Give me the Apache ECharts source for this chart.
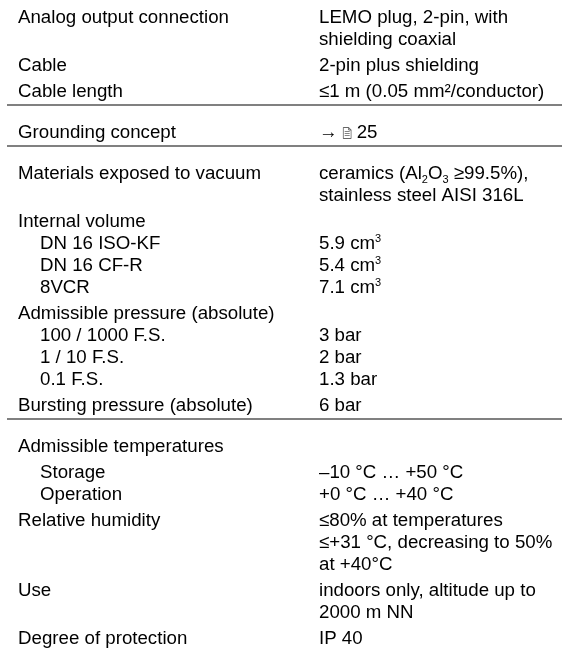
<!DOCTYPE html>
<html>
<head>
<meta charset="utf-8">
<style>
  html, body { margin: 0; padding: 0; background: #fff; }
  #chart { width: 562px; height: 649px; }
</style>
<script src="https://cdn.jsdelivr.net/npm/echarts@6/dist/echarts.min.js"></script>
</head>
<body>
<div id="chart"></div>
<script>
// table content
const connectionLabels = ['Analog output connection', 'Cable', 'Cable length'];
const connectionValues = [
    ['LEMO plug, 2-pin, with', 'shielding coaxial'],
    ['2-pin plus shielding'],
    ['≤1 m (0.05 mm²/conductor)']
];
const groundingLabel = 'Grounding concept';
const groundingPage = 25;
const materialsLabel = 'Materials exposed to vacuum';
const materialsValues = ['ceramics (Al{sub|2}O{sub|3} ≥99.5%),', 'stainless steel AISI 316L'];
const volumeLabel = 'Internal volume';
const volumeFlanges = ['DN 16 ISO-KF', 'DN 16 CF-R', '8VCR'];
const volumeCm3 = [5.9, 5.4, 7.1];
const pressureLabel = 'Admissible pressure (absolute)';
const pressureRanges = ['100 / 1000 F.S.', '1 / 10 F.S.', '0.1 F.S.'];
const pressureBar = ['3', '2', '1.3'];
const burstingLabel = 'Bursting pressure (absolute)';
const burstingBar = 6;
const tempLabel = 'Admissible temperatures';
const tempModes = ['Storage', 'Operation'];
const tempRanges = ['–10 °C … +50 °C', '+0 °C … +40 °C'];
const humidityLabel = 'Relative humidity';
const humidityValues = ['≤80% at temperatures', '≤+31 °C, decreasing to 50%', 'at +40°C'];
const useLabel = 'Use';
const useValues = ['indoors only, altitude up to', '2000 m NN'];
const protectionLabel = 'Degree of protection';
const protectionClass = 'IP 40';

// rows of the table
let rows = [
    { label: [connectionLabels[0]], value: connectionValues[0] },
    { label: [connectionLabels[1]], value: connectionValues[1] },
    { label: [connectionLabels[2]], value: connectionValues[2], rule: true },
    { label: [groundingLabel], value: ['→{sp| }{doc| }{sp| }' + groundingPage], rule: true },
    { label: [materialsLabel], value: materialsValues },
    { label: [volumeLabel].concat(volumeFlanges), value: [''].concat(volumeCm3.map(v => v.toFixed(1) + ' cm{sup|3}')), indentFrom: 1 },
    { label: [pressureLabel].concat(pressureRanges), value: [''].concat(pressureBar.map(v => v + ' bar')), indentFrom: 1 },
    { label: [burstingLabel], value: [burstingBar + ' bar'], rule: true },
    { label: [tempLabel], value: [] },
    { label: tempModes, value: tempRanges, indentFrom: 0 },
    { label: [humidityLabel], value: humidityValues },
    { label: [useLabel], value: useValues },
    { label: [protectionLabel], value: [protectionClass] }
];

const FONT = 'Liberation Sans, Arial, sans-serif';
const SIZE = 18.7;
const PITCH = 22, GAP = 26, RULE_DROP = 13, RULE_GAP = 28;

let docSvg = "<svg xmlns='http://www.w3.org/2000/svg' width='9' height='12' viewBox='0 0 9 12'>" +
    "<path d='M0.5 0.5h5.5l2.5 2.5v8.5h-8z' fill='white' stroke='#555' stroke-width='0.9'/>" +
    "<path d='M6 0.5v2.5h2.5' fill='none' stroke='#555' stroke-width='0.9'/>" +
    "<path d='M2 4.5h5M2 6.5h5M2 8.5h5' stroke='#666' stroke-width='0.8'/></svg>";
let docUrl = 'data:image/svg+xml;charset=utf-8,' + encodeURIComponent(docSvg);

let rich = {
    sup: { fontSize: 11, fontFamily: FONT, verticalAlign: 'top', lineHeight: 12 },
    sub: { fontSize: 11, fontFamily: FONT, verticalAlign: 'bottom', lineHeight: 12 },
    sp: { width: 5, fontSize: 4 },
    doc: { width: 9, height: 12, backgroundColor: { image: docUrl } }
};

function textEl(x, y, text) {
    return {
        type: 'text',
        x: x,
        y: y,
        silent: true,
        style: {
            text: text,
            fontSize: SIZE,
            fontFamily: FONT,
            fill: '#000',
            lineHeight: PITCH,
            textVerticalAlign: 'middle',
            rich: rich
        }
    };
}

// laying out the rows top to bottom
let elements = [];
let y = 18;
rows.forEach((row) => {
    let n = Math.max(row.label.length, row.value.length);
    for (let i = 0; i < n; i++) {
        let ly = y + i * PITCH;
        if (row.label[i]) {
            let indent = row.indentFrom !== undefined && i >= row.indentFrom;
            elements.push(textEl(indent ? 40 : 18, ly, row.label[i]));
        }
        if (row.value[i]) {
            elements.push(textEl(319, ly, row.value[i]));
        }
    }
    let last = y + (n - 1) * PITCH;
    if (row.rule) {
        let ry = last + RULE_DROP;
        elements.push({
            type: 'line',
            silent: true,
            shape: { x1: 7, y1: ry, x2: 562, y2: ry },
            style: { stroke: '#808080', lineWidth: 2 }
        });
        y = ry + RULE_GAP;
    } else {
        y = last + GAP;
    }
});

let myChart = echarts.init(document.getElementById('chart'));
myChart.setOption({
    backgroundColor: '#ffffff',
    animation: false,
    graphic: { elements: elements }
});
</script>
</body>
</html>
